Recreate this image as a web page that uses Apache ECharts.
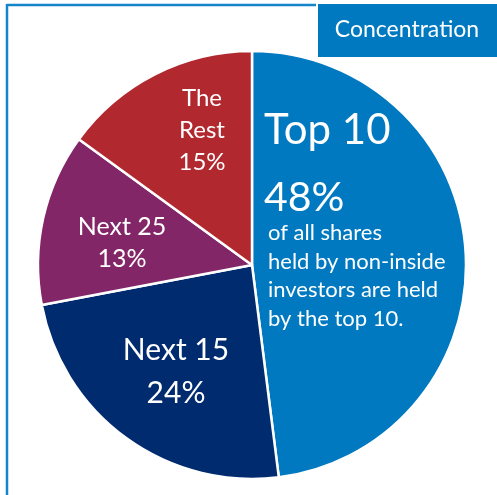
<!DOCTYPE html>
<html>
<head>
<meta charset="utf-8">
<script src="https://cdn.jsdelivr.net/npm/echarts@6/dist/echarts.min.js"></script>
<style>
html,body{margin:0;padding:0;background:#fff;}
#chart{width:497px;height:495px;}
</style>
</head>
<body>
<div id="chart"></div>
<script>
const categories = ["Top 10", "Next 15", "Next 25", "The Rest"];
const values = [48, 24, 13, 15];
const sliceColors = ["#0079c1", "#002b6f", "#832668", "#b1282f"];
const titleText = "Concentration";
const topNote = ["of all shares", "held by non-inside", "investors are held", "by the top 10."];

const FONT = "Lato, 'Open Sans', sans-serif";
const W = 400;

const labelPos = [
  { x: 264, y: 107, align: "left", verticalAlign: "top" },
  { x: 176, y: 372, align: "center", verticalAlign: "middle" },
  { x: 122, y: 243, align: "center", verticalAlign: "middle" },
  { x: 202, y: 130, align: "center", verticalAlign: "middle" }
];
const labelStyles = [
  {},
  { fontSize: 30, lineHeight: 43 },
  { fontSize: 25, lineHeight: 32 },
  { fontSize: 24, lineHeight: 32 }
];

const chart = echarts.init(document.getElementById("chart"), null, { renderer: "canvas" });

const data = categories.map((c, i) => {
  const item = { name: c, value: values[i], itemStyle: { color: sliceColors[i] } };
  if (i === 0) {
    item.label = {
      align: "left",
      formatter: (p) => "{a|" + p.name + "}\n{s| }\n{b|" + p.value + "%}\n" +
        topNote.map(t => "{c|" + t + "}").join("\n"),
      rich: {
        a: { fontSize: 42, lineHeight: 46, color: "#fff", fontFamily: FONT, fontWeight: W },
        s: { fontSize: 10, lineHeight: 24, color: "#fff" },
        b: { fontSize: 41, lineHeight: 42, color: "#fff", fontFamily: FONT, fontWeight: W },
        c: { fontSize: 22, lineHeight: 28.5, color: "#fff", fontFamily: FONT, fontWeight: W, padding: [0, 0, 0, 4] }
      }
    };
  } else {
    item.label = Object.assign({
      align: "center",
      formatter: (p) => (p.name === "The Rest" ? "The\nRest" : p.name) + "\n" + p.value + "%"
    }, labelStyles[i]);
  }
  return item;
});

chart.setOption({
  animation: false,
  backgroundColor: "#fff",
  graphic: [
    { type: "line", shape: { x1: 7, y1: 5, x2: 316, y2: 5 }, style: { stroke: "#1585ca", lineWidth: 2.5 } },
    { type: "line", shape: { x1: 7, y1: 4, x2: 7, y2: 495 }, style: { stroke: "#1585ca", lineWidth: 2.5 } },
    { type: "rect", shape: { x: 318, y: 4, width: 179, height: 53 }, style: { fill: "#0079c1" } },
    { type: "text", x: 407, y: 30, style: { text: titleText, fill: "#fff", font: W + " 23px " + FONT, align: "center", verticalAlign: "middle" } }
  ],
  series: [{
    type: "pie",
    center: [252, 265],
    radius: [0, 214],
    startAngle: 90,
    clockwise: true,
    avoidLabelOverlap: false,
    itemStyle: { borderColor: "#fff", borderWidth: 2.5 },
    emphasis: { disabled: true },
    label: { show: true, position: "inside", color: "#fff", fontFamily: FONT, fontWeight: W },
    labelLine: { show: false },
    labelLayout: (params) => labelPos[params.dataIndex],
    data: data
  }]
});
</script>
</body>
</html>
